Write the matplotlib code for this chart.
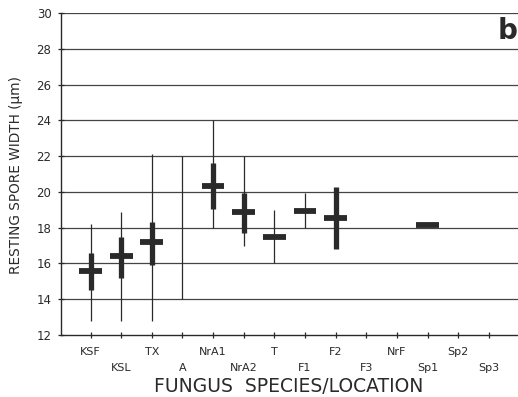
import matplotlib.pyplot as plt
import numpy as np

nan = np.nan
labels = ["KSF", "KSL", "TX", "A", "NrA1", "NrA2", "T", "F1", "F2", "F3", "NrF", "Sp1", "Sp2", "Sp3"]
# full range (thin line)
range_lo = [12.8, 12.8, 12.8, 14.0, 18.0, 16.95, 16.0, 18.0, nan, nan, nan, nan, nan, nan]
range_hi = [18.2, 18.9, 22.1, 22.0, 24.0, 22.0, 19.0, 19.95, nan, nan, nan, nan, nan, nan]
# thick bar
sd_lo = [14.5, 15.2, 15.9, nan, 19.05, 17.7, nan, nan, 16.8, nan, nan, nan, nan, nan]
sd_hi = [16.6, 17.5, 18.3, nan, 21.6, 19.95, nan, nan, 20.25, nan, nan, nan, nan, nan]
# mean
means = [15.6, 16.4, 17.2, nan, 20.35, 18.85, 17.5, 18.95, 18.55, nan, nan, 18.15, nan, nan]

ink = "#2a2a2a"
x = np.arange(1, len(labels) + 1)

fig = plt.figure(figsize=(5.18, 3.97), dpi=100)
ax = fig.add_axes([60.5 / 518, 62 / 397, 1 - 60.5 / 518, 322 / 397])

for yv in range(14, 31, 2):
    ax.axhline(yv, color="#444444", lw=0.9, zorder=1)

ax.vlines(x, range_lo, range_hi, color=ink, lw=0.9, zorder=2)
ax.vlines(x, sd_lo, sd_hi, color=ink, lw=3.8, zorder=3)
ax.hlines(means, x - 0.37, x + 0.37, color=ink, lw=4.2, zorder=3)

ax.set_xlim(0.02, 14.95)
ax.set_ylim(12, 30)
ax.set_yticks(range(12, 31, 2))

ax.set_xticks(x[0::2])
ax.set_xticklabels(labels[0::2])
ax.set_xticks(x[1::2], minor=True)
ax.set_xticklabels(labels[1::2], minor=True)
ax.tick_params(axis="x", which="major", direction="inout", length=5, width=0.9, pad=6,
               labelsize=8, colors=ink)
ax.tick_params(axis="x", which="minor", direction="inout", length=5, width=0.9, pad=18,
               labelsize=8, colors=ink)
ax.tick_params(axis="y", direction="inout", length=5, width=0.9, pad=4, labelsize=8.5, colors=ink)

for s in ["top", "right"]:
    ax.spines[s].set_visible(False)
for s in ["left", "bottom"]:
    ax.spines[s].set_color(ink)
    ax.spines[s].set_linewidth(1.0)

fig.text(289 / 518, 1 - 386 / 397, "FUNGUS  SPECIES/LOCATION", ha="center", va="center",
         fontsize=13.5, color=ink)
fig.text(16 / 518, 1 - 175 / 397, "RESTING SPORE WIDTH (\u03bcm)", rotation=90, ha="center",
         va="center", fontsize=9.8, color=ink)
fig.text(517 / 518, 1 - 31 / 397, "b", ha="right", va="center", fontsize=20, fontweight="bold",
         color=ink)

fig.savefig("out.png", dpi=100)
